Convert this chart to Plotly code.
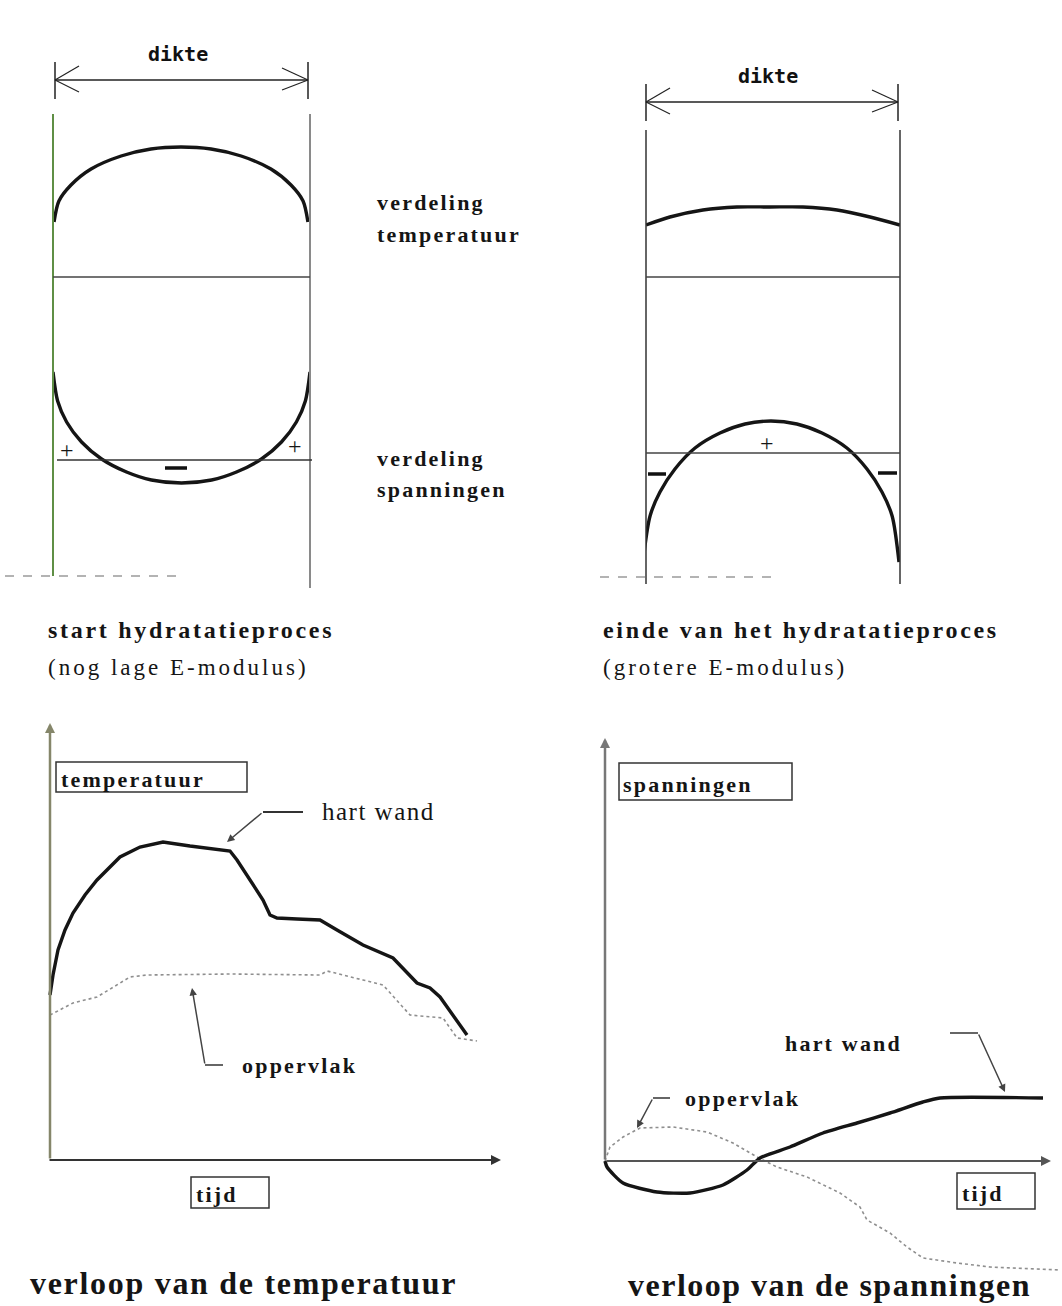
import plotly.graph_objects as go

W, H = 1062, 1306

# ---------------- data ----------------
# Top-left: start of hydration, distribution across the thickness (0 = left face, 1 = right face)
start_temp_pos = [0.004, 0.023, 0.070, 0.148, 0.265, 0.381, 0.498, 0.615, 0.732, 0.848, 0.926, 0.973, 0.992]
start_temp_val = [55, 76, 92, 108, 121, 128, 130, 128, 121, 108, 92, 76, 55]
start_stress_pos = [0.0, 0.018, 0.053, 0.111, 0.189, 0.286, 0.383, 0.500, 0.617, 0.714, 0.811, 0.889, 0.947, 0.982, 1.0]
start_stress_val = [88, 59, 38, 18, 1, -12, -20, -23, -20, -12, 1, 18, 38, 59, 88]

# Top-right: end of hydration
end_temp_pos = [0.0, 0.094, 0.224, 0.358, 0.488, 0.618, 0.752, 0.882, 1.0]
end_temp_val = [52, 60, 67, 70, 70, 70, 67, 60, 52]
end_stress_pos = [-0.012, 0.016, 0.055, 0.114, 0.193, 0.291, 0.390, 0.492, 0.594, 0.693, 0.791, 0.870, 0.929, 0.969, 0.996]
end_stress_val = [-109, -63, -39, -16, 5, 20, 29, 32, 29, 20, 5, -16, -39, -63, -109]

# Bottom-left: temperature over time
temp_time_core = [0, 3, 8, 15, 23, 35, 47, 70, 90, 113, 140, 167, 180, 187, 200, 213, 220, 227, 247, 270, 287, 313, 343, 367, 380, 390, 417]
temp_core = [165, 185, 210, 230, 247, 265, 280, 303, 313, 318, 314, 311, 309, 300, 280, 260, 245, 242, 241, 240, 230, 215, 202, 177, 172, 163, 125]
temp_time_surf = [0, 23, 47, 80, 97, 180, 270, 277, 313, 333, 360, 393, 407, 427]
temp_surf = [145, 157, 163, 183, 185, 186, 185, 189, 180, 175, 145, 142, 122, 119]

# Bottom-right: stresses over time
str_time_core = [0, 2, 18, 52, 85, 118, 142, 155, 185, 218, 252, 285, 318, 335, 438]
str_core = [0, -6, -22, -31, -32, -24, -9, 3, 14, 28, 38, 48, 59, 63, 63]
str_time_surf = [0, 5, 18, 35, 68, 102, 128, 152, 172, 202, 235, 255, 262, 285, 302, 318, 352, 385, 455]
str_surf = [0, 14, 24, 33, 34, 29, 18, 4, -6, -16, -32, -46, -59, -72, -86, -97, -102, -106, -109]

# texts
dim_label = "dikte"
dist_labels = [("verdeling", "temperatuur"), ("verdeling", "spanningen")]
phase_titles = [("start hydratatieproces", "(nog lage E-modulus)"),
                ("einde van het hydratatieproces", "(grotere E-modulus)")]
axis_labels = ["temperatuur", "spanningen", "tijd"]
series_labels = ["hart wand", "oppervlak"]
chart_titles = ["verloop van de temperatuur", "verloop van de spanningen"]

# ---------------- layout helpers ----------------
SERIF = "Liberation Serif, Times New Roman, serif"
BLACK = "#151515"

fig = go.Figure()
layout = dict(
    width=W, height=H, margin=dict(l=0, r=0, t=0, b=0),
    paper_bgcolor="white", plot_bgcolor="rgba(0,0,0,0)", showlegend=False,
    xaxis=dict(domain=[0, 1], range=[0, W], visible=False, fixedrange=True),
    yaxis=dict(domain=[0, 1], range=[H, 0], visible=False, fixedrange=True),
)


def panel(i, px0, px1, pytop, pybot, xr, yr):
    layout[f"xaxis{i}"] = dict(domain=[px0 / W, px1 / W], range=xr, visible=False,
                               anchor=f"y{i}", fixedrange=True)
    layout[f"yaxis{i}"] = dict(domain=[1 - pybot / H, 1 - pytop / H], range=yr, visible=False,
                               anchor=f"x{i}", fixedrange=True)


# cross-section panels: x in [0,1] over the thickness, y in px above baseline
panel(2, 53, 310, 118, 300, [0, 1], [277 - 300, 277 - 118])
panel(3, 53, 310, 300, 588, [0, 1], [460 - 588, 460 - 300])
panel(4, 646, 900, 132, 300, [0, 1], [277 - 300, 277 - 132])
panel(5, 646, 900, 300, 588, [0, 1], [453 - 588, 453 - 300])
# time panels
panel(6, 40, 505, 715, 1170, [-10, 455], [1160 - 1170, 1160 - 715])
panel(7, 595, 1062, 730, 1290, [-10, 457], [1161 - 1290, 1161 - 730])

thick = dict(color=BLACK, width=3.4)
dotted = dict(color="#8f8f8f", width=1.6, dash="dot")
smooth = dict(**thick, shape="spline", smoothing=0.8)

fig.add_trace(go.Scatter(x=start_temp_pos, y=start_temp_val, mode="lines", line=smooth, xaxis="x2", yaxis="y2", cliponaxis=False))
fig.add_trace(go.Scatter(x=start_stress_pos, y=start_stress_val, mode="lines", line=smooth, xaxis="x3", yaxis="y3", cliponaxis=False))
fig.add_trace(go.Scatter(x=end_temp_pos, y=end_temp_val, mode="lines", line=smooth, xaxis="x4", yaxis="y4", cliponaxis=False))
fig.add_trace(go.Scatter(x=end_stress_pos, y=end_stress_val, mode="lines", line=smooth, xaxis="x5", yaxis="y5", cliponaxis=False))

fig.add_trace(go.Scatter(x=temp_time_surf, y=temp_surf, mode="lines", line=dotted, xaxis="x6", yaxis="y6", cliponaxis=False))
fig.add_trace(go.Scatter(x=temp_time_core, y=temp_core, mode="lines", line=thick, xaxis="x6", yaxis="y6", cliponaxis=False))
fig.add_trace(go.Scatter(x=str_time_surf, y=str_surf, mode="lines", line=dotted, xaxis="x7", yaxis="y7", cliponaxis=False))
fig.add_trace(go.Scatter(x=str_time_core, y=str_core, mode="lines", line=dict(**thick, shape="spline", smoothing=0.6), xaxis="x7", yaxis="y7", cliponaxis=False))

shapes = []
annotations = []


def line(x0, y0, x1, y1, color="#333", width=1.5, dash=None):
    d = dict(type="line", xref="x", yref="y", x0=x0, y0=y0, x1=x1, y1=y1,
             line=dict(color=color, width=width))
    if dash:
        d["line"]["dash"] = dash
    shapes.append(d)


def rect(x0, y0, x1, y1):
    shapes.append(dict(type="rect", xref="x", yref="y", x0=x0, y0=y0, x1=x1, y1=y1,
                       line=dict(color="#333", width=1.5), fillcolor="rgba(0,0,0,0)"))


def text(x, y, s, size=22, bold=True, family=SERIF, anchor="left", spacing=2.2, color=BLACK):
    t = f"<b>{s}</b>" if bold else s
    if spacing:
        t = f'<span style="letter-spacing:{spacing}px">{t}</span>'
    annotations.append(dict(xref="x", yref="y", x=x, y=y, text=t, showarrow=False,
                            xanchor=anchor, yanchor="middle",
                            font=dict(family=family, size=size, color=color)))


def arrow(x0, y0, x1, y1, color="#333", width=1.5, head=2, size=1.0):
    annotations.append(dict(xref="x", yref="y", axref="x", ayref="y", x=x1, y=y1, ax=x0, ay=y0,
                            text="", showarrow=True, arrowhead=head, arrowsize=size,
                            arrowwidth=width, arrowcolor=color, standoff=0, startstandoff=0))


def dim_arrow(xl, xr, y):
    line(xl, y - 18, xl, y + 19, color="#222", width=1.5)
    line(xr, y - 18, xr, y + 19, color="#222", width=1.5)
    line(xl, y, xr, y, color="#222", width=1.5)
    line(xl, y, xl + 24, y - 14, color="#222", width=1.2)
    line(xl, y, xl + 24, y + 12, color="#222", width=1.2)
    line(xr, y, xr - 26, y - 12, color="#222", width=1.2)
    line(xr, y, xr - 26, y + 10, color="#222", width=1.2)
    text((xl + xr) / 2 - 4, y - 26, dim_label, size=20, bold=True,
         family="DejaVu Sans Mono, monospace", anchor="center", spacing=0, color="#111")


# ---- top-left cross-section ----
dim_arrow(55, 308, 80)
line(53, 114, 53, 576, color="#5f8f45", width=2)
line(310, 114, 310, 588, color="#8a8a8a", width=2)
line(53, 277, 310, 277, color="#444", width=1.5)
line(57, 460, 312, 460, color="#333", width=1.5)
line(5, 576, 185, 576, color="#9a9a9a", width=1.5, dash="dash")
text(67, 450, "+", size=24, bold=False, anchor="center", spacing=0)
text(295, 446, "+", size=24, bold=False, anchor="center", spacing=0)
line(165, 468, 187, 468, color="#111", width=3.5)

# ---- top-right cross-section ----
dim_arrow(646, 898, 102)
line(646, 130, 646, 584, color="#333", width=1.5)
line(900, 130, 900, 584, color="#333", width=1.5)
line(646, 277, 900, 277, color="#444", width=1.5)
line(646, 453, 900, 453, color="#444", width=1.5)
line(600, 577, 778, 577, color="#9a9a9a", width=1.5, dash="dash")
text(767, 443, "+", size=24, bold=False, anchor="center", spacing=0)
line(648, 474, 666, 474, color="#111", width=3.5)
line(878, 473, 897, 473, color="#111", width=3.5)

# distribution labels
text(375, 202, dist_labels[0][0])
text(375, 234, dist_labels[0][1])
text(375, 458, dist_labels[1][0])
text(375, 489, dist_labels[1][1])

# phase titles
text(46, 630, phase_titles[0][0], size=24, spacing=2.7)
text(46, 667, phase_titles[0][1], size=23, bold=False, spacing=3)
text(601, 630, phase_titles[1][0], size=24, spacing=2.7)
text(601, 667, phase_titles[1][1], size=23, bold=False, spacing=3)

# ---- bottom-left: temperature over time ----
arrow(50, 1160, 50, 723, color="#85866a", width=2.5, head=2, size=0.8)
arrow(48, 1160, 501, 1160, color="#333", width=2, head=2, size=1.0)
rect(56, 762, 247, 792)
text(59, 779, axis_labels[0])
rect(191, 1177, 269, 1208)
text(194, 1194, axis_labels[2])
line(263, 812, 303, 812, color="#333", width=1.8)
arrow(263, 812, 227, 842, color="#444", width=1.5, head=2, size=1.0)
text(320, 811, series_labels[0], size=25, bold=False, spacing=1.5)
line(205, 1065, 223, 1065, color="#333", width=1.5)
arrow(205, 1065, 192, 988, color="#444", width=1.5, head=2, size=1.0)
text(240, 1065, series_labels[1])
text(28, 1283, chart_titles[0], size=32, spacing=1.7)

# ---- bottom-right: stresses over time ----
arrow(605, 1161, 605, 738, color="#777", width=2.5, head=2, size=0.8)
arrow(605, 1161, 1051, 1161, color="#555", width=2, head=2, size=1.0)
rect(619, 763, 792, 800)
text(621, 784, axis_labels[1])
rect(957, 1173, 1035, 1209)
text(960, 1193, axis_labels[2])
text(683, 1098, series_labels[1])
line(653, 1098, 670, 1098, color="#333", width=1.5)
arrow(653, 1098, 637, 1128, color="#444", width=1.5, head=2, size=1.0)
text(783, 1043, series_labels[0])
line(950, 1033, 978, 1033, color="#333", width=1.5)
arrow(978, 1033, 1005, 1092, color="#444", width=1.5, head=2, size=1.0)
text(626, 1285, chart_titles[1], size=32, spacing=1.5)

layout["shapes"] = shapes
layout["annotations"] = annotations
fig.update_layout(**layout)
fig.write_html("out.html", config={"displayModeBar": False},
               post_script="document.body.style.margin='0';document.body.style.overflow='hidden';")
